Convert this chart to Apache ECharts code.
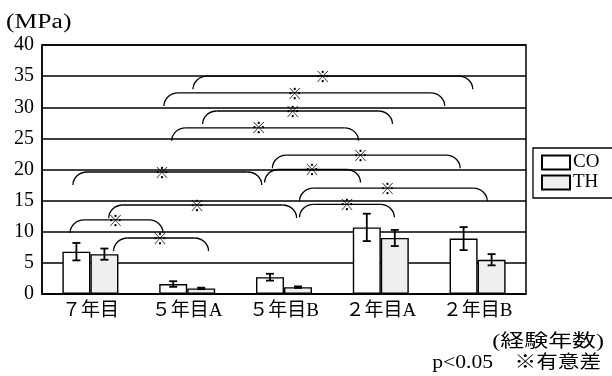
<!DOCTYPE html>
<html>
<head>
<meta charset="utf-8">
<script src="https://cdn.jsdelivr.net/npm/echarts@6/dist/echarts.min.js"></script>
<style>html,body{margin:0;padding:0;background:#fff;}#c{width:612px;height:376px;}</style>
</head>
<body>
<div id="c"></div>
<script>
const categories = ['７年目', '５年目A', '５年目B', '２年目A', '２年目B'];
const coMean = [6.8, 1.6, 2.7, 10.7, 8.9];
const coErr  = [1.4, 0.45, 0.55, 2.2, 1.85];
const thMean = [6.4, 0.9, 1.1, 9.0, 5.5];
const thErr  = [0.9, 0.12, 0.12, 1.3, 0.9];
const yTicks = [0, 5, 10, 15, 20, 25, 30, 35, 40];
// significance brackets: [left (category index units), right, height MPa, asterisk position]
const brackets = [
  [1.06, 3.95, 35.0, 2.40],
  [0.76, 3.66, 32.3, 2.11],
  [1.16, 3.12, 29.4, 2.09],
  [0.84, 2.77, 26.7, 1.74],
  [1.88, 3.82, 22.3, 2.79],
  [1.80, 2.79, 20.0, 2.29],
  [-0.18, 1.77, 19.6, 0.74],
  [2.16, 4.10, 17.0, 3.07],
  [0.19, 2.13, 14.3, 1.10],
  [2.16, 3.14, 14.4, 2.65],
  [-0.21, 0.75, 11.9, 0.26],
  [0.24, 1.22, 9.0, 0.72]
];

const FONT = '"Liberation Serif", "Noto Sans CJK JP", serif';
const chart = echarts.init(document.getElementById('c'));

function errData(mean, err) {
  return mean.map((m, i) => [i, m - err[i], m + err[i]]);
}
function errRender(offset) {
  return function (params, api) {
    const i = api.value(0);
    const lo = api.coord([i, api.value(1)]);
    const hi = api.coord([i, api.value(2)]);
    const x = lo[0] + offset;
    const cap = 4;
    const st = { stroke: '#000', lineWidth: 1.8 };
    return {
      type: 'group',
      children: [
        { type: 'line', shape: { x1: x, y1: lo[1], x2: x, y2: hi[1] }, style: st },
        { type: 'line', shape: { x1: x - cap, y1: lo[1], x2: x + cap, y2: lo[1] }, style: st },
        { type: 'line', shape: { x1: x - cap, y1: hi[1], x2: x + cap, y2: hi[1] }, style: st }
      ]
    };
  };
}

function bracketRender(params, api) {
  const p1 = api.coord([api.value(0), api.value(2)]);
  const p2 = api.coord([api.value(1), api.value(2)]);
  const ps = api.coord([api.value(3), api.value(2)]);
  const d = 13, r = 14, k = 0.55;
  const yt = p1[1], yb = yt + d;
  const st = { stroke: '#000', lineWidth: 1.3, fill: null };
  return {
    type: 'group',
    children: [
      { type: 'bezierCurve', shape: { x1: p1[0], y1: yb, cpx1: p1[0], cpy1: yb - k * d, cpx2: p1[0] + r - k * r, cpy2: yt, x2: p1[0] + r, y2: yt }, style: st },
      { type: 'line', shape: { x1: p1[0] + r, y1: yt, x2: p2[0] - r, y2: yt }, style: st },
      { type: 'bezierCurve', shape: { x1: p2[0] - r, y1: yt, cpx1: p2[0] - r + k * r, cpy1: yt, cpx2: p2[0], cpy2: yb - k * d, x2: p2[0], y2: yb }, style: st },
      { type: 'text', style: { text: '※', x: ps[0], y: yt, align: 'center', verticalAlign: 'middle', textAlign: 'center', textVerticalAlign: 'middle', fontSize: 15, fontFamily: '"Noto Sans CJK JP"', fill: '#000' } }
    ]
  };
}

chart.setOption({
  animation: false,
  backgroundColor: '#fff',
  grid: { left: 42, right: 86, top: 45, bottom: 82, show: true, borderColor: '#000', borderWidth: 1.5, backgroundColor: 'transparent' },
  legend: {
    data: ['CO', 'TH'],
    orient: 'vertical', left: 533, top: 148,
    itemWidth: 28, itemHeight: 14, itemGap: 1,
    padding: [5, 40, 6, 8],
    borderColor: '#000', borderWidth: 1.3,
    icon: 'rect',
    textStyle: { fontSize: 19, fontFamily: FONT, color: '#000', lineHeight: 14, padding: [0, 0, 0, -2] }
  },
  xAxis: [
    {
      type: 'category', data: categories,
      axisLine: { lineStyle: { color: '#000', width: 1.5 } },
      axisTick: { inside: true, length: 4, lineStyle: { color: '#000', width: 1.5 } },
      axisLabel: { color: '#000', fontSize: 19, fontFamily: FONT, margin: 8 }
    },
    { type: 'value', min: -0.5, max: 4.5, show: false }
  ],
  yAxis: {
    type: 'value', min: yTicks[0], max: yTicks[yTicks.length - 1], interval: 5,
    axisLine: { show: true, onZero: false, lineStyle: { color: '#000', width: 1.5 } },
    axisTick: { show: false },
    axisLabel: { color: '#000', fontSize: 20, fontFamily: FONT, margin: 8 },
    splitLine: { lineStyle: { color: '#000', width: 1.6 } }
  },
  series: [
    { name: 'CO', type: 'bar', data: coMean, barWidth: 28, barGap: '0%', itemStyle: { color: '#fff', borderColor: '#000', borderWidth: 1.4 } },
    { name: 'TH', type: 'bar', data: thMean, barWidth: 28, barGap: '0%', itemStyle: { color: '#efefef', borderColor: '#000', borderWidth: 1.4 } },
    { type: 'custom', data: errData(coMean, coErr), renderItem: errRender(-14), z: 5, silent: true },
    { type: 'custom', data: errData(thMean, thErr), renderItem: errRender(14), z: 5, silent: true },
    { type: 'custom', xAxisIndex: 1, data: brackets, renderItem: bracketRender, z: 6, silent: true, clip: false }
  ],
  graphic: [
    { type: 'text', x: 6, y: 23, scaleX: 1.28, style: { text: '(MPa)', fontSize: 20, fontFamily: FONT, fill: '#000', align: 'left', verticalAlign: 'middle' } },
    { type: 'text', x: 604, y: 342, scaleX: 1.33, style: { text: '(経験年数)', fontSize: 18, fontFamily: FONT, fill: '#000', align: 'right', verticalAlign: 'middle' } },
    { type: 'text', x: 601, y: 363, scaleX: 1.2, style: { text: 'p<0.05　※有意差', fontSize: 18, fontFamily: FONT, fill: '#000', align: 'right', verticalAlign: 'middle' } }
  ]
});
</script>
</body>
</html>
